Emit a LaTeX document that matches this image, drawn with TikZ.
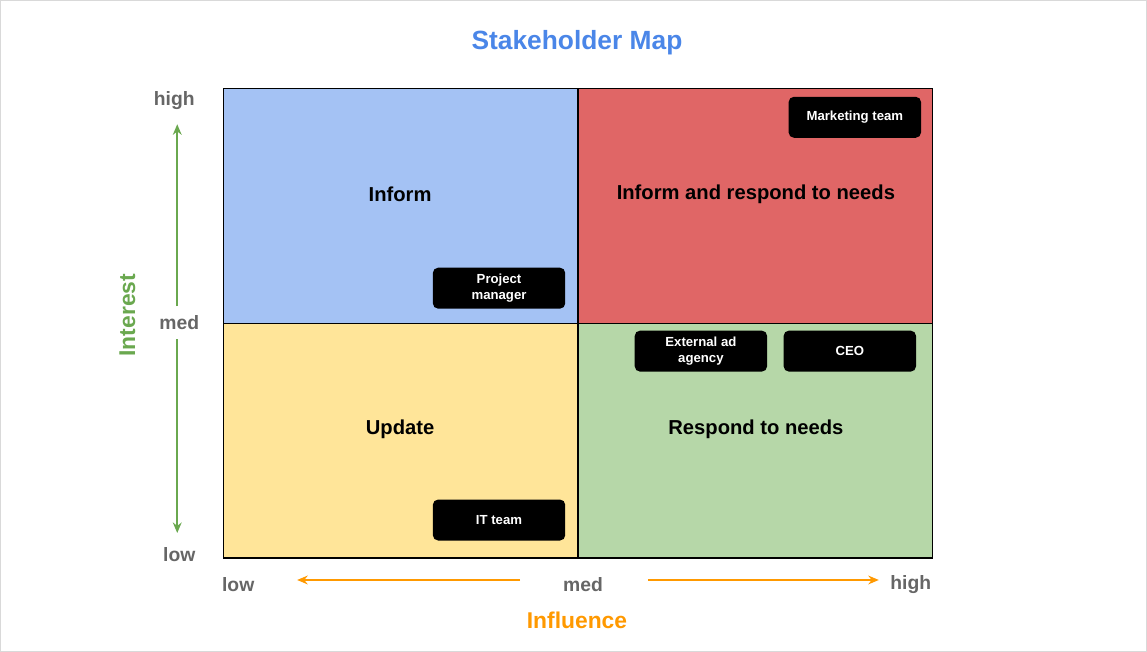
\documentclass[tikz,border=0pt]{standalone}
\usepackage{fontspec}
\setmainfont{Liberation Sans}
\usetikzlibrary{arrows.meta}
\definecolor{qblue}{HTML}{A4C2F4}
\definecolor{qred}{HTML}{E06666}
\definecolor{qyellow}{HTML}{FFE599}
\definecolor{qgreen}{HTML}{B6D7A8}
\definecolor{axgray}{HTML}{666666}
\definecolor{axgreen}{HTML}{6AA84F}
\definecolor{axorange}{HTML}{FF9900}
\definecolor{titleblue}{HTML}{4A86E8}
\tikzset{
  quad/.style={draw=black,line width=0.6pt},
  qlabel/.style={font=\bfseries\fontsize{11.5}{13}\selectfont},
  holder/.style={fill=black,rounded corners=3pt,text=white,align=center,
    font=\bfseries\fontsize{7.5}{9}\selectfont,minimum width=2.65cm,minimum height=0.82cm,inner sep=1pt},
  tick/.style={text=axgray,font=\bfseries\fontsize{11}{13}\selectfont,inner sep=1pt},
  ax/.style={-{Stealth[length=6pt,width=5pt]},line width=1.1pt}
}
\begin{document}
\begin{tikzpicture}[x=0.02cm,y=-0.02cm]
  \draw[draw=black!15,fill=white] (0,0) rectangle (1147,651);
  \node (title) at (577,42) {\textcolor{titleblue}{\bfseries\fontsize{15}{18}\selectfont Stakeholder Map}};

  %% quadrants
  \draw[quad,fill=qblue]   (223,88)  rectangle (578,323);
  \draw[quad,fill=qred]    (578,88)  rectangle (933,323);
  \draw[quad,fill=qyellow] (223,323) rectangle (578,558);
  \draw[quad,fill=qgreen]  (578,323) rectangle (933,558);

  \node[qlabel] (inform) at (400,194) {Inform};
  \node[qlabel] (informrespond) at (756,194) {Inform and respond to needs};
  \node[qlabel] (update) at (400,429) {Update};
  \node[qlabel] (respond) at (756,429) {Respond to needs};

  %% stakeholders
  \node[holder] (marketing) at (855,117) {Marketing team};
  \node[holder] (pm) at (499,288) {Project\\manager};
  \node[holder] (agency) at (701,351) {External ad\\agency};
  \node[holder] (ceo) at (850,351) {CEO};
  \node[holder] (it) at (499,520) {IT team};

  %% interest axis
  \node[tick] (yhigh) at (174,100) {high};
  \node[tick] (ymed) at (179,322) {med};
  \node[tick] (ylow) at (179,555) {low};
  \coordinate (ytop) at (177,124);
  \coordinate (ybot) at (177,533);
  \draw[ax,axgreen] (177,306) -- (ytop);
  \draw[ax,axgreen] (177,339) -- (ybot);
  \node[rotate=90,text=axgreen,font=\bfseries\fontsize{13}{15}\selectfont] (interest) at (127,315) {Interest};

  %% influence axis
  \node[tick] (xlow) at (238,585) {low};
  \node[tick] (xmed) at (583,585) {med};
  \node[tick] (xhigh) at (911,585) {high};
  \coordinate (xleft) at (297,580);
  \coordinate (xright) at (879,580);
  \draw[ax,axorange] (520,580) -- (xleft);
  \draw[ax,axorange] (648,580) -- (xright);
  \node[text=axorange,font=\bfseries\fontsize{13}{15}\selectfont] (influence) at (577,620) {Influence};
\end{tikzpicture}
\end{document}
